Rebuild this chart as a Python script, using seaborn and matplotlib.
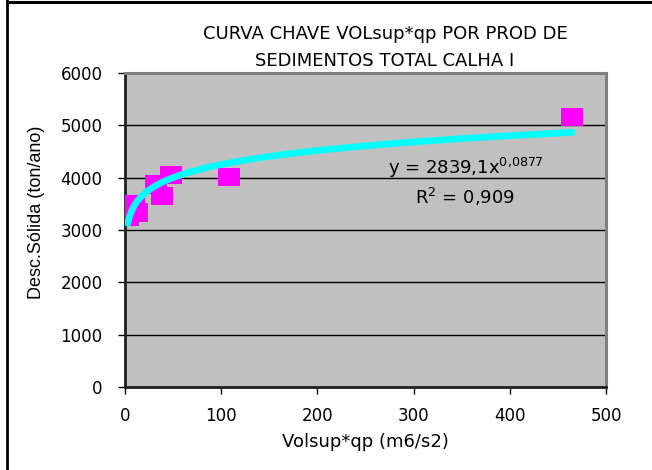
import numpy as np
import pandas as pd
import matplotlib
matplotlib.use("Agg")
import matplotlib.pyplot as plt
from matplotlib.path import Path
from matplotlib.lines import Line2D
import seaborn as sns

# ---- data ----
vol_qp = [3, 9, 13, 32, 38, 48, 108, 465]            # Volsup*qp (m6/s2)
desc_solida = [3250, 3500, 3340, 3865, 3650, 4050, 4010, 5160]  # ton/ano
trend_a = 2839.1
trend_b = 0.0877
r2_text = "0,909"
x_ticks = [0, 100, 200, 300, 400, 500]
y_ticks = [0, 1000, 2000, 3000, 4000, 5000, 6000]
title_line1 = "CURVA CHAVE VOLsup*qp POR PROD DE"
title_line2 = "SEDIMENTOS TOTAL CALHA I"
x_label = "Volsup*qp (m6/s2)"
y_label = "Desc.Sólida (ton/ano)"

sns.set_style("white")
plt.rcParams['font.family'] = ['DejaVu Sans']
plt.rcParams['text.color'] = 'black'
plt.rcParams['axes.labelcolor'] = 'black'
plt.rcParams['xtick.color'] = 'black'
plt.rcParams['ytick.color'] = 'black'

W, H = 652, 470
fig = plt.figure(figsize=(W / 100, H / 100), dpi=100)
fig.patch.set_facecolor("white")

L, R, T, B = 125, 606, 73, 387
ax = fig.add_axes([L / W, 1 - B / H, (R - L) / W, (B - T) / H])
ax.set_facecolor("#C0C0C0")

df = pd.DataFrame({"x": vol_qp, "y": desc_solida})

# trendline (power fit shown in the chart)
xs = np.geomspace(min(vol_qp), max(vol_qp), 300)
trend = pd.DataFrame({"x": xs, "y": trend_a * xs ** trend_b})

rect = Path([(-1, -0.85), (1, -0.85), (1, 0.85), (-1, 0.85), (-1, -0.85)], closed=True)
sns.scatterplot(data=df, x="x", y="y", ax=ax, marker=rect, s=250,
                color="#FF00FF", edgecolor="none", linewidth=0, zorder=3)
sns.lineplot(data=trend, x="x", y="y", ax=ax, color="#00FFFF", linewidth=4.8,
             solid_capstyle="round", zorder=4)

ax.set_xlim(0, 500)
ax.set_ylim(0, 6000)
ax.set_xticks(x_ticks)
ax.set_yticks(y_ticks)
ax.set_xticklabels([str(v) for v in x_ticks])
ax.set_yticklabels([str(v) for v in y_ticks])
ax.yaxis.grid(True, color="black", linewidth=1.0)
ax.xaxis.grid(False)
ax.set_axisbelow(True)

for side in ["left", "bottom"]:
    ax.spines[side].set_color("#202020")
    ax.spines[side].set_linewidth(2.0)
for side in ["top", "right"]:
    ax.spines[side].set_color("#808080")
    ax.spines[side].set_linewidth(2.2)

ax.tick_params(axis="y", direction="out", length=5.2, width=1, color="black",
               labelcolor="black", pad=11, labelsize=12, left=True)
ax.tick_params(axis="x", direction="out", length=5.2, width=1, color="black",
               labelcolor="black", pad=9, labelsize=12, bottom=True)

ax.set_xlabel(x_label, fontsize=13, labelpad=6, color="black")
ax.set_ylabel(y_label, fontsize=13, family=["Liberation Sans"], color="black")
ax.yaxis.set_label_coords(-0.166, 0.557)

# title (two lines)
fig.text(385 / W, 1 - 39 / H, title_line1, fontsize=13, ha="center", va="baseline",
         color="black")
fig.text(385 / W, 1 - 66 / H, title_line2, fontsize=13, ha="center", va="baseline",
         color="black")

# equation annotation
fig.text(465.5 / W, 1 - 174.3 / H, r"y = 2839,1x$^{\mathregular{0{,}0877}}$",
         fontsize=13, ha="center", va="baseline", color="black")
fig.text(465.5 / W, 1 - 204 / H, r"R$^{\mathregular{2}}$ = " + r2_text,
         fontsize=13, ha="center", va="baseline", color="black")

# outer document frame lines
fig.add_artist(Line2D([6.5 / W, 1], [1 - 1.5 / H, 1 - 1.5 / H], color="black",
                      linewidth=2.2, transform=fig.transFigure))
fig.add_artist(Line2D([7 / W, 7 / W], [0, 1], color="black", linewidth=2.0,
                      transform=fig.transFigure))

fig.savefig("out.png", dpi=100)
